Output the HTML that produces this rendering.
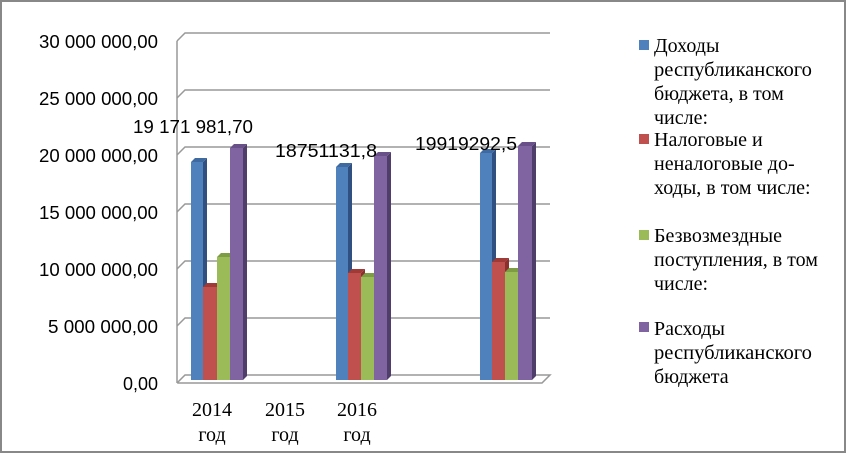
<!DOCTYPE html>
<html><head><meta charset="utf-8"><style>
body{margin:0;background:#fff}
svg{display:block}
.y{font-family:"Liberation Sans",sans-serif;font-size:18px;fill:#000}
.t{font-family:"Liberation Serif",serif;font-size:20px;fill:#000}
</style></head><body>
<svg width="847" height="454" viewBox="0 0 847 454" xmlns="http://www.w3.org/2000/svg">
<rect x="1" y="1" width="844" height="451" fill="#fff" stroke="#888" stroke-width="2"/>
<g stroke="#999" stroke-width="1.5" fill="none">
<path d="M177 41 L185 33 H550"/>
<path d="M177 98 L185 90 H550"/>
<path d="M177 155 L185 147 H550"/>
<path d="M177 212 L185 204 H550"/>
<path d="M177 269 L185 261 H550"/>
<path d="M177 326 L185 318 H550"/>
<path d="M177 383 L185 375 H550 L542 383 H177"/>
<path d="M177 41 V383"/>
</g>
<g class="y" text-anchor="end">
<text x="158" y="48" textLength="119" lengthAdjust="spacingAndGlyphs">30 000 000,00</text>
<text x="158" y="105" textLength="119" lengthAdjust="spacingAndGlyphs">25 000 000,00</text>
<text x="158" y="162" textLength="119" lengthAdjust="spacingAndGlyphs">20 000 000,00</text>
<text x="158" y="219" textLength="119" lengthAdjust="spacingAndGlyphs">15 000 000,00</text>
<text x="158" y="276" textLength="119" lengthAdjust="spacingAndGlyphs">10 000 000,00</text>
<text x="158" y="333" textLength="110" lengthAdjust="spacingAndGlyphs">5 000 000,00</text>
<text x="158" y="390">0,00</text>
</g>
<g id="bars">
<polygon points="203,162 207,158 207,376 203,380" fill="#2f5080"/><rect x="191" y="162" width="12" height="218" fill="#4f81bd"/><polygon points="191,162 195,158 207,158 203,162" fill="#3e6aa0"/>
<polygon points="217,287 221,283 221,376 217,380" fill="#8c2f2d"/><rect x="203" y="287" width="14" height="93" fill="#c0504d"/><polygon points="203,287 207,283 221,283 217,287" fill="#a03a37"/>
<polygon points="230,257 234,253 234,376 230,380" fill="#6f8a3a"/><rect x="217" y="257" width="13" height="123" fill="#9bbb59"/><polygon points="217,257 221,253 234,253 230,257" fill="#7e9c44"/>
<polygon points="243,148 247,144 247,376 243,380" fill="#4f3d6a"/><rect x="230" y="148" width="13" height="232" fill="#8064a2"/><polygon points="230,148 234,144 247,144 243,148" fill="#6a5088"/>
<polygon points="348,167 352,163 352,376 348,380" fill="#2f5080"/><rect x="336" y="167" width="12" height="213" fill="#4f81bd"/><polygon points="336,167 340,163 352,163 348,167" fill="#3e6aa0"/>
<polygon points="361,273 365,269 365,376 361,380" fill="#8c2f2d"/><rect x="348" y="273" width="13" height="107" fill="#c0504d"/><polygon points="348,273 352,269 365,269 361,273" fill="#a03a37"/>
<polygon points="374,277 378,273 378,376 374,380" fill="#6f8a3a"/><rect x="361" y="277" width="13" height="103" fill="#9bbb59"/><polygon points="361,277 365,273 378,273 374,277" fill="#7e9c44"/>
<polygon points="387,156 391,152 391,376 387,380" fill="#4f3d6a"/><rect x="374" y="156" width="13" height="224" fill="#8064a2"/><polygon points="374,156 378,152 391,152 387,156" fill="#6a5088"/>
<polygon points="492,153 496,149 496,376 492,380" fill="#2f5080"/><rect x="480" y="153" width="12" height="227" fill="#4f81bd"/><polygon points="480,153 484,149 496,149 492,153" fill="#3e6aa0"/>
<polygon points="505,262 509,258 509,376 505,380" fill="#8c2f2d"/><rect x="492" y="262" width="13" height="118" fill="#c0504d"/><polygon points="492,262 496,258 509,258 505,262" fill="#a03a37"/>
<polygon points="518,272 522,268 522,376 518,380" fill="#6f8a3a"/><rect x="505" y="272" width="13" height="108" fill="#9bbb59"/><polygon points="505,272 509,268 522,268 518,272" fill="#7e9c44"/>
<polygon points="532,146 536,142 536,376 532,380" fill="#4f3d6a"/><rect x="518" y="146" width="14" height="234" fill="#8064a2"/><polygon points="518,146 522,142 536,142 532,146" fill="#6a5088"/>
</g>
<g class="y">
<text x="133" y="133" textLength="120" lengthAdjust="spacingAndGlyphs">19 171 981,70</text>
<text x="275" y="157" textLength="102" lengthAdjust="spacingAndGlyphs">18751131,8</text>
<text x="415" y="150" textLength="102" lengthAdjust="spacingAndGlyphs">19919292,5</text>
</g>
<g class="t" text-anchor="middle">
<text x="212" y="416">2014</text><text x="212" y="441">год</text>
<text x="285" y="416">2015</text><text x="285" y="441">год</text>
<text x="357" y="416">2016</text><text x="357" y="441">год</text>
</g>
<g class="t">
<rect x="639" y="40" width="10" height="10" fill="#4f81bd"/>
<text x="654" y="52">Доходы</text>
<text x="654" y="76" textLength="158" lengthAdjust="spacingAndGlyphs">республиканского</text>
<text x="654" y="100">бюджета, в том</text>
<text x="654" y="124">числе:</text>
<rect x="639" y="134" width="10" height="10" fill="#c0504d"/>
<text x="654" y="146">Налоговые и</text>
<text x="654" y="170">неналоговые до-</text>
<text x="654" y="194">ходы, в том числе:</text>
<rect x="639" y="230" width="10" height="10" fill="#9bbb59"/>
<text x="654" y="242">Безвозмездные</text>
<text x="654" y="266">поступления, в том</text>
<text x="654" y="290">числе:</text>
<rect x="639" y="322" width="10" height="10" fill="#8064a2"/>
<text x="654" y="335">Расходы</text>
<text x="654" y="359" textLength="158" lengthAdjust="spacingAndGlyphs">республиканского</text>
<text x="654" y="383">бюджета</text>
</g>
</svg>
</body></html>
